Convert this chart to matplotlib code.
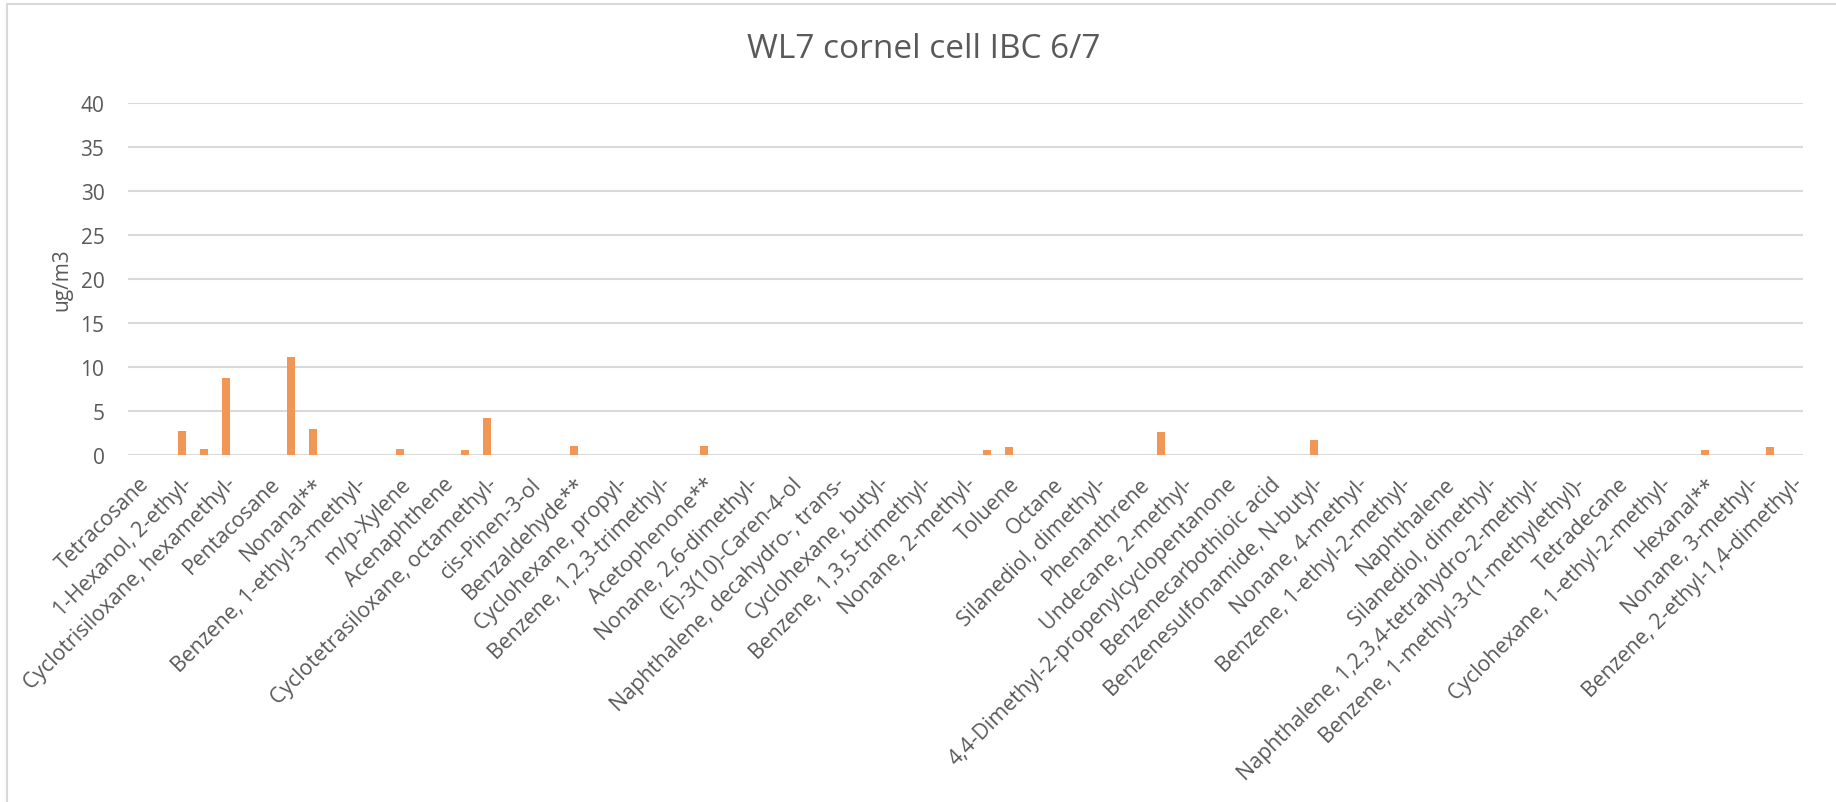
import matplotlib
matplotlib.use("Agg")
import matplotlib.pyplot as plt
from matplotlib.patches import Rectangle
import numpy as np

plt.rcParams['font.family'] = ['Open Sans', 'DejaVu Sans']

# every other category label is shown on the axis (Excel skips the rest)
shown_labels = ['Tetracosane', '1-Hexanol, 2-ethyl-', 'Cyclotrisiloxane, hexamethyl-',
                'Pentacosane', 'Nonanal**', 'Benzene, 1-ethyl-3-methyl-', 'm/p-Xylene',
                'Acenaphthene', 'Cyclotetrasiloxane, octamethyl-', 'cis-Pinen-3-ol',
                'Benzaldehyde**', 'Cyclohexane, propyl-', 'Benzene, 1,2,3-trimethyl-',
                'Acetophenone**', 'Nonane, 2,6-dimethyl-', '(E)-3(10)-Caren-4-ol',
                'Naphthalene, decahydro-, trans-', 'Cyclohexane, butyl-',
                'Benzene, 1,3,5-trimethyl-', 'Nonane, 2-methyl-', 'Toluene', 'Octane',
                'Silanediol, dimethyl-', 'Phenanthrene', 'Undecane, 2-methyl-',
                '4,4-Dimethyl-2-propenylcyclopentanone', 'Benzenecarbothioic acid',
                'Benzenesulfonamide, N-butyl-', 'Nonane, 4-methyl-',
                'Benzene, 1-ethyl-2-methyl-', 'Naphthalene', 'Silanediol, dimethyl-',
                'Naphthalene, 1,2,3,4-tetrahydro-2-methyl-',
                'Benzene, 1-methyl-3-(1-methylethyl)-', 'Tetradecane',
                'Cyclohexane, 1-ethyl-2-methyl-', 'Hexanal**', 'Nonane, 3-methyl-',
                'Benzene, 2-ethyl-1,4-dimethyl-']

# ug/m3 per category (77 categories)
values = [0, 0, 2.7, 0.68, 8.75, 0, 0, 11.15, 2.95, 0,
          0, 0, 0.68, 0, 0, 0.57, 4.2, 0, 0, 0,
          1.02, 0, 0, 0, 0, 0, 1.02, 0, 0, 0,
          0, 0, 0, 0, 0, 0, 0, 0, 0, 0.55,
          0.9, 0, 0, 0, 0, 0, 0, 2.6, 0, 0,
          0, 0, 0, 0, 1.7, 0, 0, 0, 0, 0,
          0, 0, 0, 0, 0, 0, 0, 0, 0, 0,
          0, 0, 0.57, 0, 0, 0.9, 0]

W, H = 1836, 803
fig = plt.figure(figsize=(W / 100, H / 100), dpi=100)
ax = fig.add_axes([128 / W, 1 - 456 / H, (1803 - 128) / W, (456 - 104) / H])

x = np.arange(len(values))
ax.bar(x, values, width=0.37, color='#f29656', zorder=3)

ax.set_xlim(-0.5, len(values) - 0.5)
ax.set_ylim(0, 40)
ax.set_yticks(np.arange(0, 41, 5))
ax.grid(axis='y', color='#d9d9d9', linewidth=1.5, zorder=0)
for s in ax.spines.values():
    s.set_visible(False)

ax.set_xticks(x[::2])
ax.set_xticklabels(shown_labels, rotation=45, ha='right', rotation_mode='anchor',
                   fontsize=15.3, color='#595959')
ax.tick_params(axis='x', length=0, pad=13)
ax.tick_params(axis='y', length=0, pad=17, labelsize=15, labelcolor='#595959')

fig.text(62 / W, 1 - 280 / H, 'ug/m3', rotation=90, ha='center', va='center',
         fontsize=15, color='#595959')
fig.text(924 / W, 1 - 49 / H, 'WL7 cornel cell IBC 6/7', ha='center', va='center',
         fontsize=24, color='#595959')

fig.patches.append(Rectangle((7 / W, -0.01), 1.2, 1 - 5 / H + 0.01,
                             transform=fig.transFigure, fill=False,
                             edgecolor='#d9d9d9', linewidth=1.5))

fig.savefig('out.png', dpi=100)
